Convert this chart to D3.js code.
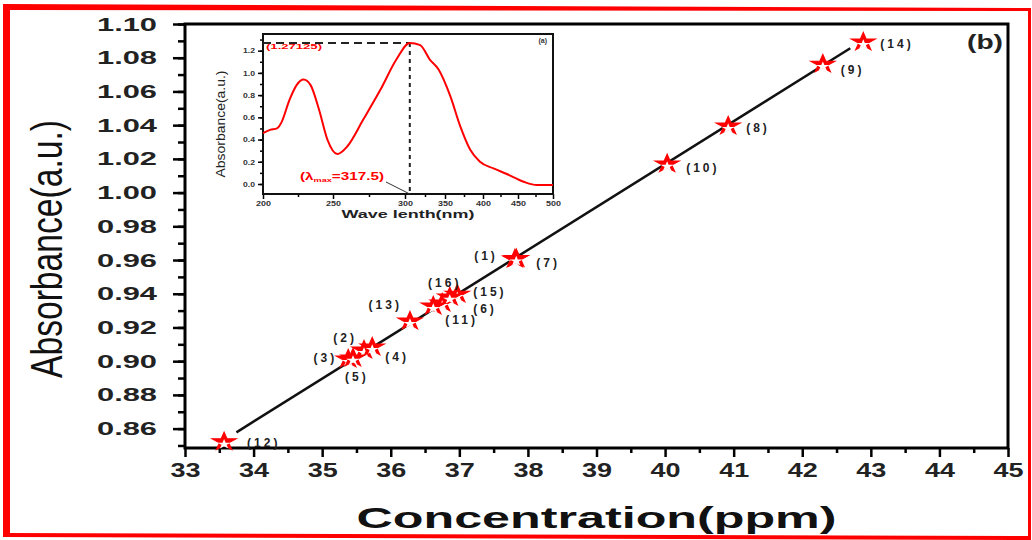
<!DOCTYPE html>
<html>
<head>
<meta charset="utf-8">
<script src="https://cdn.jsdelivr.net/npm/d3@7"></script>
<style>
  body { margin: 0; background: #fff; }
  svg { display: block; }
  text { font-family: "Liberation Sans", Arial, sans-serif; }
</style>
</head>
<body>
<div id="chart"></div>
<script>
// main calibration points
var pointNames = ["(1)", "(2)", "(3)", "(4)", "(5)", "(6)", "(7)", "(8)",
                  "(9)", "(10)", "(11)", "(12)", "(13)", "(14)", "(15)", "(16)"];
var concentration = [37.81, 35.61, 35.38, 35.73, 35.45, 36.75, 37.83, 40.92,
                     42.30, 40.03, 36.62, 33.57, 36.28, 42.89, 36.97, 36.86];
var absorbance = [0.9612, 0.9072, 0.9019, 0.9090, 0.9025, 0.9351, 0.9615, 1.0401,
                  1.0768, 1.0176, 0.9333, 0.8528, 0.9244, 1.0899, 0.9404, 0.9387];

// fitted line end points
var fitConc = [33.75, 42.70];
var fitAbs = [0.8578, 1.0856];

var xTicks = d3.range(33, 46, 1);
var yTicks = [0.86, 0.88, 0.90, 0.92, 0.94, 0.96, 0.98, 1.00, 1.02, 1.04, 1.06, 1.08, 1.10];

// inset spectrum
var waveLength = [200, 205, 210, 213, 219, 224, 229, 234, 240, 246, 253, 260, 271, 283,
                  294, 306, 319, 331, 342, 357, 370, 383, 396, 415, 434, 458, 477, 500];
var specAbs = [0.457, 0.487, 0.50, 0.55, 0.76, 0.89, 0.94, 0.89, 0.67, 0.40, 0.27, 0.34, 0.58, 0.85,
               1.12, 1.27, 1.25, 1.12, 1.03, 0.79, 0.52, 0.31, 0.20, 0.14, 0.09, 0.02, -0.01, -0.01];
var peakWave = 306, peakAbs = 1.27;
var insetXTicks = [200, 250, 300, 350, 400, 450, 500];
var insetYTicks = [0.0, 0.2, 0.4, 0.6, 0.8, 1.0, 1.2];

// label placement (dx, dy, anchor) per point, same order as pointNames
var labelPos = [[-17, -2, "end"], [-7, -11, "end"], [-11, 0, "end"], [13, 11, "start"],
                [-8, 20, "start"], [31, 7, "start"], [20, 5, "start"], [18, 3, "start"],
                [18, 7, "start"], [19, 5, "start"], [12, 15, "start"], [23, 2, "start"],
                [-8, -15, "end"], [17, 3, "start"], [16, -1, "start"], [-5, -13, "middle"]];

var W = 1032, H = 540;
var svg = d3.select("#chart").append("svg").attr("width", W).attr("height", H);
svg.append("rect").attr("width", W).attr("height", H).attr("fill", "#fff");

// red outer frame
var red = "#ff0000";
svg.append("path").attr("fill", red).attr("d", "M3,4 L1031,8 L1031,11 L3,10 Z");
svg.append("rect").attr("x", 3).attr("y", 4).attr("width", 7).attr("height", 533).attr("fill", red);
svg.append("rect").attr("x", 1028).attr("y", 8).attr("width", 3).attr("height", 532).attr("fill", red);
svg.append("path").attr("fill", red).attr("d", "M3,533 L1031,536 L1031,540 L3,537 Z");

var x = d3.scaleLinear().domain([33, 45]).range([185, 1008]);
var y = d3.scaleLinear().domain([0.8485, 1.10]).range([448, 24]);

// minor ticks
svg.append("g").attr("transform", "translate(" + x(33) + ",0)")
  .call(d3.axisLeft(y).tickValues(d3.range(0.85, 1.1, 0.01)).tickSize(7).tickFormat(""))
  .call(function(g) { g.select(".domain").remove(); g.selectAll("line").attr("stroke-width", 2.5); });
svg.append("g").attr("transform", "translate(0," + y.range()[0] + ")")
  .call(d3.axisBottom(x).tickValues(d3.range(33.5, 45, 1)).tickSize(5).tickFormat(""))
  .call(function(g) { g.select(".domain").remove(); g.selectAll("line").attr("stroke-width", 2.5); });

// major axes
var yAxis = svg.append("g").attr("transform", "translate(" + x(33) + ",0)")
  .call(d3.axisLeft(y).tickValues(yTicks).tickSize(12).tickSizeOuter(0).tickPadding(16)
    .tickFormat(d3.format(".2f")));
yAxis.selectAll("line").attr("stroke-width", 2.5);
yAxis.selectAll("text").attr("font-size", 19).attr("font-weight", "bold").attr("fill", "#222")
  .attr("textLength", 60).attr("lengthAdjust", "spacingAndGlyphs");

var xAxis = svg.append("g").attr("transform", "translate(0," + y.range()[0] + ")")
  .call(d3.axisBottom(x).tickValues(xTicks).tickSize(9).tickSizeOuter(0).tickPadding(6)
    .tickFormat(d3.format("d")));
xAxis.selectAll("line").attr("stroke-width", 2.5);
xAxis.selectAll("text").attr("font-size", 20).attr("font-weight", "bold").attr("fill", "#222")
  .attr("textLength", 30).attr("lengthAdjust", "spacingAndGlyphs");

// plot frame
svg.append("rect")
  .attr("x", x(33)).attr("y", y(1.10))
  .attr("width", x(45) - x(33)).attr("height", y.range()[0] - y(1.10))
  .attr("fill", "none").attr("stroke", "#000").attr("stroke-width", 3);

// fit line
var line = d3.line().x(function(d) { return x(d[0]); }).y(function(d) { return y(d[1]); });
svg.append("path")
  .attr("d", line(d3.zip(fitConc, fitAbs)))
  .attr("fill", "none").attr("stroke", "#111").attr("stroke-width", 2.5);

// star markers
var pts = svg.append("g").selectAll("g").data(d3.range(pointNames.length)).join("g")
  .attr("transform", function(i) {
    return "translate(" + x(concentration[i]) + "," + y(absorbance[i]) + ") scale(1.35,1)";
  });
pts.append("path")
  .attr("d", d3.symbol(d3.symbolStar, 100)())
  .attr("transform", "translate(0,1)")
  .attr("fill", red).attr("stroke", red).attr("stroke-width", 1);
pts.append("path")
  .attr("d", d3.symbol(d3.symbolStar, 30)())
  .attr("transform", "translate(0,3.5)")
  .attr("fill", "#fff");

// point labels
svg.append("g").selectAll("text").data(d3.range(pointNames.length)).join("text")
  .attr("x", function(i) { return x(concentration[i]) + labelPos[i][0]; })
  .attr("y", function(i) { return y(absorbance[i]) + labelPos[i][1]; })
  .attr("dy", "0.35em")
  .attr("text-anchor", function(i) { return labelPos[i][2]; })
  .attr("font-size", 12).attr("font-weight", "bold").attr("letter-spacing", 3)
  .attr("fill", "#222")
  .text(function(i) { return pointNames[i]; });

// titles
svg.append("text")
  .attr("transform", "translate(62,249) rotate(-90)")
  .attr("text-anchor", "middle")
  .attr("font-family", "'Liberation Sans Narrow', 'DejaVu Sans Condensed', sans-serif")
  .attr("font-size", 44).attr("fill", "#111")
  .attr("textLength", 258).attr("lengthAdjust", "spacingAndGlyphs")
  .text("Absorbance(a.u.)");
svg.append("text")
  .attr("x", (x(33) + x(45)) / 2).attr("y", 528)
  .attr("text-anchor", "middle")
  .attr("font-size", 30).attr("font-weight", "bold").attr("fill", "#111")
  .attr("textLength", 480).attr("lengthAdjust", "spacingAndGlyphs")
  .text("Concentration(ppm)");
svg.append("text")
  .attr("x", 1003).attr("y", 49).attr("text-anchor", "end")
  .attr("font-size", 21).attr("font-weight", "bold").attr("fill", "#222")
  .attr("textLength", 36).attr("lengthAdjust", "spacingAndGlyphs")
  .text("(b)");

// ---- inset ----
// the inset's wavelength axis is unevenly spaced in the source figure
var ix = d3.scaleLinear().domain(insetXTicks).range([263, 333, 405, 445, 483, 518, 553]);
var iy = d3.scaleLinear().domain([-0.09, 1.35]).range([194, 34]);
var inset = svg.append("g");

inset.append("g").attr("transform", "translate(" + ix(200) + ",0)")
  .call(d3.axisLeft(iy).tickValues(d3.range(-0.0, 1.31, 0.1)).tickSize(3).tickFormat(""))
  .call(function(g) { g.select(".domain").remove(); g.selectAll("line").attr("stroke-width", 1.5); });
inset.append("g").attr("transform", "translate(0," + iy(-0.09) + ")")
  .call(d3.axisBottom(ix).tickValues(d3.range(225, 500, 50)).tickSize(3).tickFormat(""))
  .call(function(g) { g.select(".domain").remove(); g.selectAll("line").attr("stroke-width", 1.5); });

var iyAxis = inset.append("g").attr("transform", "translate(" + ix(200) + ",0)")
  .call(d3.axisLeft(iy).tickValues(insetYTicks).tickSize(5).tickSizeOuter(0).tickPadding(3)
    .tickFormat(d3.format(".1f")));
iyAxis.selectAll("line").attr("stroke-width", 1.5);
iyAxis.selectAll("text").attr("font-size", 7).attr("font-weight", "bold").attr("fill", "#333")
  .attr("textLength", 12).attr("lengthAdjust", "spacingAndGlyphs");

var ixAxis = inset.append("g").attr("transform", "translate(0," + iy(-0.09) + ")")
  .call(d3.axisBottom(ix).tickValues(insetXTicks).tickSize(5).tickSizeOuter(0).tickPadding(2)
    .tickFormat(d3.format("d")));
ixAxis.selectAll("line").attr("stroke-width", 1.5);
ixAxis.selectAll("text").attr("font-size", 6.5).attr("font-weight", "bold").attr("fill", "#333")
  .attr("textLength", 15).attr("lengthAdjust", "spacingAndGlyphs");

inset.append("rect")
  .attr("x", ix(200)).attr("y", iy(1.35))
  .attr("width", ix(500) - ix(200)).attr("height", iy(-0.09) - iy(1.35))
  .attr("fill", "none").attr("stroke", "#111").attr("stroke-width", 2);

// dashed guides at peak
inset.append("line")
  .attr("x1", ix(200)).attr("x2", ix(peakWave)).attr("y1", iy(peakAbs)).attr("y2", iy(peakAbs))
  .attr("stroke", "#222").attr("stroke-width", 2).attr("stroke-dasharray", "8,5");
inset.append("line")
  .attr("x1", ix(peakWave)).attr("x2", ix(peakWave)).attr("y1", iy(peakAbs)).attr("y2", iy(-0.09))
  .attr("stroke", "#222").attr("stroke-width", 2).attr("stroke-dasharray", "4,4");

var specLine = d3.line()
  .x(function(d) { return ix(d[0]); }).y(function(d) { return iy(d[1]); })
  .curve(d3.curveMonotoneX);
inset.append("path")
  .attr("d", specLine(d3.zip(waveLength, specAbs)))
  .attr("fill", "none").attr("stroke", red).attr("stroke-width", 2);

inset.append("text")
  .attr("x", ix(200) + 3).attr("y", iy(peakAbs) + 6)
  .attr("font-size", 8).attr("font-weight", "bold").attr("fill", red)
  .attr("textLength", 56).attr("lengthAdjust", "spacingAndGlyphs")
  .text("(1.27125)");

var lam = inset.append("text")
  .attr("x", 300).attr("y", 180)
  .attr("font-size", 10).attr("font-weight", "bold").attr("fill", red)
  .attr("textLength", 84).attr("lengthAdjust", "spacingAndGlyphs");
lam.append("tspan").text("(\u03bb");
lam.append("tspan").attr("font-size", 6).attr("dy", 2).text("max");
lam.append("tspan").attr("dy", -2).text("=317.5)");
inset.append("line")
  .attr("x1", 386).attr("y1", 182).attr("x2", ix(peakWave)).attr("y2", iy(-0.09))
  .attr("stroke", "#333").attr("stroke-width", 1);

inset.append("text")
  .attr("x", ix(500) - 6).attr("y", iy(1.35) + 9).attr("text-anchor", "end")
  .attr("font-size", 7).attr("font-weight", "bold").attr("fill", "#333")
  .text("(a)");

inset.append("text")
  .attr("transform", "translate(225,124) rotate(-90)")
  .attr("text-anchor", "middle")
  .attr("font-size", 12).attr("fill", "#222")
  .attr("font-family", "'Liberation Sans Narrow', 'DejaVu Sans Condensed', sans-serif")
  .attr("textLength", 107).attr("lengthAdjust", "spacingAndGlyphs")
  .text("Absorbance(a.u.)");
inset.append("text")
  .attr("x", (ix(200) + ix(500)) / 2).attr("y", 218).attr("text-anchor", "middle")
  .attr("font-size", 11).attr("font-weight", "bold").attr("fill", "#222")
  .attr("textLength", 133).attr("lengthAdjust", "spacingAndGlyphs")
  .text("Wave lenth(nm)");
</script>
</body>
</html>
